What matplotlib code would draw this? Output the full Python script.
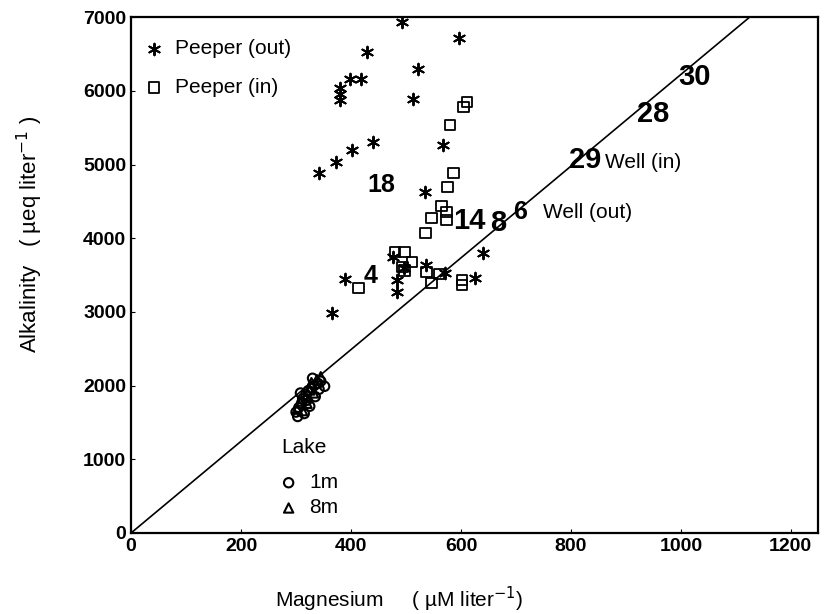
"""Alkalinity vs magnesium: peepers, wells and lake samples."""

import matplotlib
matplotlib.use("Agg")
import matplotlib.pyplot as plt

plt.rcParams["font.family"] = ["Liberation Sans", "DejaVu Sans"]

# Peeper (out) samples: Mg (uM/l), alkalinity (ueq/l)
peeper_out_mg = [493, 596, 429, 522, 398, 418, 380, 380, 380, 513,
                 342, 373, 402, 440, 567, 535, 389, 365, 476, 484,
                 484, 496, 536, 571, 640, 625]
peeper_out_alk = [6933, 6716, 6526, 6296, 6160, 6160, 6038, 5957, 5875, 5889,
                  4885, 5034, 5197, 5305, 5265, 4627, 3446, 2985, 3745, 3433,
                  3270, 3596, 3636, 3528, 3799, 3460]

# Peeper (in) samples
peeper_in_mg = [611, 604, 580, 587, 575, 565, 574, 574, 547, 536,
                480, 498, 511, 413, 538, 560, 602, 602, 547, 493, 498]
peeper_in_alk = [5848, 5780, 5536, 4885, 4695, 4437, 4356, 4247, 4274, 4070,
                 3813, 3813, 3677, 3324, 3541, 3514, 3433, 3365, 3392, 3610, 3560]

# Lake samples at 1 m and 8 m
lake1_mg = [300, 305, 310, 312, 318, 322, 328, 333, 340, 345, 352, 308, 315,
            303, 325, 335, 342, 330, 320]
lake1_alk = [1640, 1700, 1760, 1820, 1880, 1930, 1960, 2000, 2030, 2060, 1990, 1900, 1620,
             1580, 1720, 1850, 1950, 2100, 1800]
lake8_mg = [302, 310, 318, 325, 332, 338, 345, 320, 312, 328]
lake8_alk = [1680, 1790, 1850, 1940, 1900, 2080, 2120, 1760, 1660, 2040]

# Wells, labelled by sample number
well_ids = ["18", "4", "14", "8", "6", "29", "28", "30"]
well_mg = [456, 435, 616, 667, 707, 825, 949, 1024]
well_alk = [4722, 3487, 4233, 4206, 4355, 5061, 5685, 6187]
well_size = [18, 18, 21, 21, 18, 21, 21, 21]

# fitted line through the origin
line_mg = [0, 1125]
line_alk = [0, 7000]

x_ticks = [0, 200, 400, 600, 800, 1000, 1200]
y_ticks = [0, 1000, 2000, 3000, 4000, 5000, 6000, 7000]

fig = plt.figure(figsize=(8.35, 6.14), dpi=100)
ax = fig.add_axes([0.157, 0.132, 0.823, 0.840])

ax.plot(line_mg, line_alk, color="black", lw=1.2, zorder=1)

star = (6, 2, 0)
p_out = ax.scatter(peeper_out_mg, peeper_out_alk, marker=star, s=70,
                   color="black", lw=1.4, zorder=3)
p_in = ax.scatter(peeper_in_mg, peeper_in_alk, marker="s", s=60,
                  facecolors="none", edgecolors="black", lw=1.3, zorder=3)
l1 = ax.scatter(lake1_mg, lake1_alk, marker="o", s=45,
                facecolors="none", edgecolors="black", lw=1.5, zorder=3)
l8 = ax.scatter(lake8_mg, lake8_alk, marker="^", s=45,
                facecolors="none", edgecolors="black", lw=1.5, zorder=3)

for lab, x, y, fs in zip(well_ids, well_mg, well_alk, well_size):
    ax.text(x, y, lab, fontsize=fs, fontweight="bold", ha="center", va="center")
ax.text(749, 4355, "Well (out)", fontsize=15, va="center")
ax.text(862, 5034, "Well (in)", fontsize=15, va="center")

leg1 = ax.legend([p_out, p_in], ["Peeper (out)", "Peeper (in)"],
                 loc="upper left", bbox_to_anchor=(0.003, 0.982), frameon=False,
                 fontsize=15, handlelength=0.8, handletextpad=0.6,
                 labelspacing=0.95, borderaxespad=0.2)
ax.add_artist(leg1)
ax.text(0.219, 0.165, "Lake", fontsize=15, transform=ax.transAxes,
        ha="left", va="center")
ax.legend([l1, l8], ["1m", "8m"],
          loc="upper left", bbox_to_anchor=(0.205, 0.132), frameon=False,
          fontsize=15, handlelength=0.8, handletextpad=0.6,
          labelspacing=0.3, borderaxespad=0.0)

ax.set_xlim(0, 1250)
ax.set_ylim(0, 7000)
ax.set_xticks(x_ticks)
ax.set_yticks(y_ticks)
ax.tick_params(direction="in", length=3, labelsize=14)
for t in ax.get_xticklabels() + ax.get_yticklabels():
    t.set_fontweight("bold")
for s in ax.spines.values():
    s.set_linewidth(1.6)

ax.set_xlabel("Magnesium     ( \u00b5M liter$^{-1}$)", fontsize=15)
ax.xaxis.set_label_coords(0.39, -0.10)
ax.set_ylabel("Alkalinity   ( \u00b5eq liter$^{-1}$ )", fontsize=16)
ax.yaxis.set_label_coords(-0.125, 0.58)

fig.savefig("out.png", dpi=100)
